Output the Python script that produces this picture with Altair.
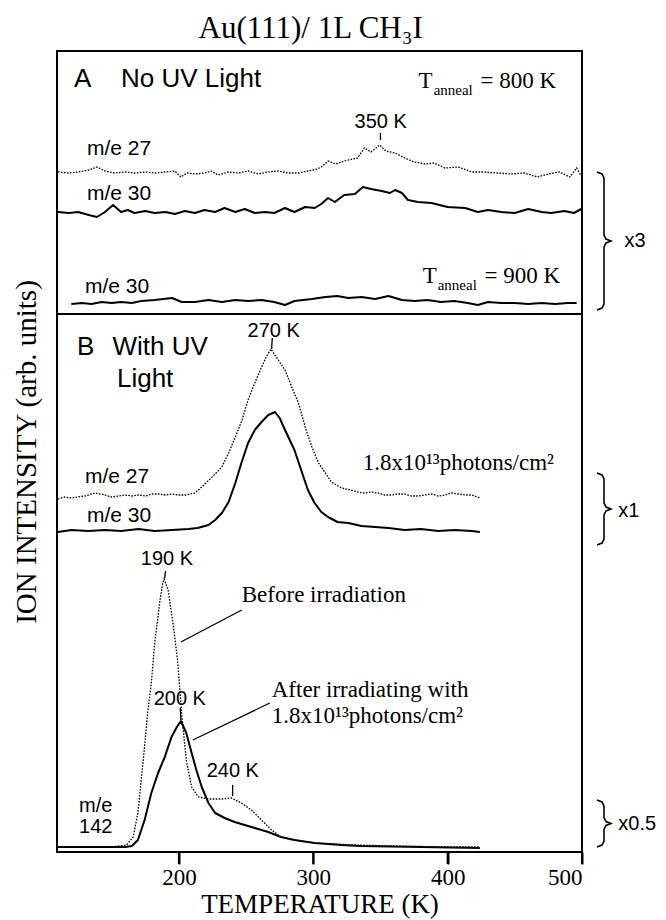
import altair as alt
import pandas as pd

# ---------------- data (temperature in K, intensity in arb. units, traces stacked) -------------
# Panel A: no UV light
A27_T = [110, 118, 125, 133, 139, 145, 152, 160, 167, 175, 182, 190, 197, 201.5, 206, 212, 219, 224, 229, 237,
         244, 251.5, 259, 266, 274, 281, 289, 296, 303, 306, 311, 317, 323, 333, 338, 343, 349.5, 354, 361, 368,
         375, 383, 390, 398, 408, 418, 427, 437, 447, 457, 467, 475, 483, 491, 496, 499]
A27_I = [680, 679, 680, 682, 685, 681, 679, 680, 679, 680, 679, 680, 681, 675, 679, 678, 679, 681, 677, 680,
         679, 681, 678, 680, 681, 679, 679, 681, 683, 685, 691, 688, 691, 694, 704, 700, 707, 701, 699, 694,
         690, 688, 689, 684, 685, 680, 680, 679, 678, 679, 675, 678, 680, 675, 684, 677]

A30_T = [110, 118, 125, 133, 139, 145, 151, 157, 162, 167, 175, 182, 190, 197, 204.5, 212, 219, 227, 234, 242,
         249, 256.5, 264, 271, 279, 286, 294, 301, 306, 311, 316, 323, 331, 337, 343, 351, 357, 361, 366, 370.5,
         378, 388, 400, 413, 422.5, 430, 440, 450, 460, 470, 477, 487, 494, 499.5]
A30_I = [640, 639, 640, 637, 635, 640, 647, 640, 642, 639, 641, 639, 640, 638, 641, 639, 642, 640, 644, 640,
         643, 639, 640, 639, 644, 640, 645, 644, 648, 654, 650, 657, 658, 665, 663, 661, 659, 662, 659, 652,
         650, 649, 645, 644, 640, 642, 640, 639, 643, 640, 639, 641, 639, 643]

A30L_T = [120, 128, 135, 142.5, 150, 157, 165, 172, 182, 195, 202, 212, 222, 232, 242, 251.5, 261.5, 271, 279, 286,
          299, 309, 318, 326, 336, 346, 356, 366, 375.5, 385, 395, 405, 415, 422.5, 430, 440, 450, 460, 470, 480,
          489.5, 496]
A30L_I = [548, 549, 548, 550, 549, 550, 549, 551, 552, 554, 550, 550, 552, 550, 552, 551, 552, 550, 547, 551,
          553, 555, 556, 554, 555, 553, 556, 552, 551, 552, 550, 551, 549, 547, 550, 549, 549, 548, 549, 548,
          549, 549]

# Panel B: with UV light
B27_T = [110, 115, 120, 125, 130, 137.5, 145, 150, 155, 160, 165, 170, 175, 180, 185, 190, 195, 200, 205, 212,
         217, 224, 232, 237, 242, 247, 251.5, 256.5, 261.5, 265, 268.5, 271, 274, 279, 284, 289, 294, 299, 304, 309,
         313.5, 321, 328, 333, 338, 343, 348, 353, 358, 363, 368, 373, 378, 383, 388, 393, 398, 403, 408, 413,
         418, 424]
B27_I = [353, 355, 354, 355, 356, 359, 357, 355, 356, 357, 356, 357, 356, 358, 358, 357, 358, 357, 357, 359,
         365, 374, 385, 399, 415, 432, 452, 469, 485, 495, 503, 498, 492, 482, 465, 449, 425, 405, 389, 379,
         370, 364, 362, 360, 359, 360, 359, 357, 357, 358, 358, 356, 356, 357, 358, 356, 357, 359, 358, 357,
         357, 354]

B30_T = [110, 120, 132.5, 145, 157, 170, 182, 195, 207, 214, 222, 227, 232, 237, 242, 246.5, 251.5, 256.5, 261.5,
         266.5, 271.5, 275, 279, 282.5, 286, 291, 296, 301, 306, 311, 318, 326, 336, 346, 356, 368, 380, 393, 405,
         418, 424]
B30_I = [320, 322, 321, 322, 321, 323, 321, 322, 323, 324, 327, 332, 339, 350, 369, 389, 409, 422, 430,
         437, 440, 434, 422, 412, 402, 382, 362, 349, 340, 335, 330, 329, 326, 325, 324, 322, 323, 321, 322,
         321, 320]

# m/e 142, before irradiation (dotted) and after irradiation (solid)
PRE_T = [110, 130, 150, 161, 166, 169.5, 173.5, 177, 179.5, 182, 186, 188, 189, 192, 196, 199, 202, 205.5, 209.5,
         214.5, 222, 232, 239, 246.5, 254, 261.5, 269, 276, 286, 301, 331, 360, 400, 424]
PRE_I = [5, 5, 5, 7, 15, 39, 92, 142, 169, 209, 252, 269, 273, 262, 225, 192, 139, 92, 65,
         55, 53, 53, 54, 49, 42, 32, 22, 15, 12, 9, 7, 6, 5, 5]

POST_T = [110, 140, 160, 165, 169.5, 174.5, 179.5, 184.5, 189.5, 194.5, 198.5, 201.5, 205.5, 209.5, 213, 217, 222,
          227, 234, 241.5, 249, 256.5, 266.5, 276, 286, 301, 321, 335, 380, 424]
POST_I = [5, 5, 5, 6, 12, 32, 59, 79, 95, 115, 125, 131, 119, 99, 82, 65, 49,
          39, 34, 30, 27, 24, 20, 15, 12, 9, 7, 6, 5, 4]

X_TICKS = [200, 300, 400, 500]
PANEL_SPLIT = 538

# annotations: (text, T, intensity, size)
SANS_LEFT = [
    ("A", 122.0, 765, 26), ("No UV Light", 156.9, 765, 26),
    ("m/e 27", 131.6, 697, 21), ("m/e 30", 131.6, 652, 21), ("m/e 30", 130.1, 559, 21),
    ("x3", 531.6, 605, 20),
    ("B", 124.2, 497, 26), ("With UV", 150.6, 497, 26), ("Light", 153.9, 465, 26),
    ("m/e 27", 130.1, 369, 21), ("m/e 30", 131.6, 330, 21),
    ("x1", 527.0, 335, 20), ("m/e", 125.7, 40, 20), ("142", 125.7, 19, 20), ("x0.5", 527.0, 22, 20),
]
SANS_CENTER = [
    ("350 K", 350.2, 724, 20), ("270 K", 270.6, 515, 20), ("190 K", 191.1, 287, 20),
    ("200 K", 200.7, 147, 20), ("240 K", 240.1, 75, 20),
]
SERIF_LEFT = [
    ("T", 378.4, 764, 23), ("anneal", 389.6, 757, 15), ("= 800 K", 424.5, 764, 23),
    ("T", 381.4, 569, 23), ("anneal", 392.6, 562, 15), ("= 900 K", 427.5, 569, 23),
    ("1.8x10\u00b9\u00b3photons/cm\u00b2", 336.8, 382, 23),
    ("Before irradiation", 246.8, 250, 23),
    ("After irradiating with", 269.1, 155, 23),
    ("1.8x10\u00b9\u00b3photons/cm\u00b2", 269.1, 129, 23),
]
SERIF_CENTER = [("Au(111)/ 1L CH\u2083I", 298.1, 814, 31)]

# label ticks and leader lines: (T1, I1, T2, I2)
SEGMENTS = [
    (350, 719, 350, 712), (269.5, 514, 269, 503), (190, 281, 189.5, 274),
    (201, 144, 201.5, 132), (240, 67, 240, 56),
    (246.8, 242, 201.5, 210), (267.7, 149, 210.4, 112),
]
# braces: (top, bottom)
BRACES = [(680, 542), (379, 307), (52, 5)]

# ---------------------------------------------------------------------------------------------
XDOM = [109.3, 500]
YDOM = [0, 801]
xs = alt.Scale(domain=XDOM, nice=False, zero=False)
ys = alt.Scale(domain=YDOM, nice=False, zero=False)
PX = (XDOM[1] - XDOM[0]) / 525.0  # K per pixel

SERIF = "Liberation Serif"
SANS = "Liberation Sans"

x_axis = alt.Axis(values=X_TICKS, tickSize=12, tickWidth=2, tickColor="black", domain=False, grid=False,
                  labelFont=SERIF, labelFontSize=23, labelColor="black", labelPadding=2,
                  title="TEMPERATURE (K)", titleFont=SERIF, titleFontSize=27, titleFontWeight="normal",
                  titleColor="black", titlePadding=2)
y_axis = alt.Axis(labels=False, ticks=False, domain=False, grid=False,
                  title="ION INTENSITY (arb. units)", titleFont=SERIF, titleFontSize=29,
                  titleFontWeight="normal", titleColor="black", titlePadding=16)


def X(f):
    return alt.X(f, scale=xs, axis=x_axis, title="TEMPERATURE (K)")


def Y(f):
    return alt.Y(f, scale=ys, axis=y_axis, title="ION INTENSITY (arb. units)")


def tr(name, T, I):
    return pd.DataFrame({"series": name, "T": T, "I": I, "o": list(range(len(T)))})


solid = pd.concat([tr("A30", A30_T, A30_I), tr("A30L", A30L_T, A30L_I),
                   tr("B30", B30_T, B30_I), tr("post", POST_T, POST_I)])
dotted = pd.concat([tr("A27", A27_T, A27_I), tr("B27", B27_T, B27_I), tr("pre", PRE_T, PRE_I)])

solid_layer = alt.Chart(solid).mark_line(color="black", strokeWidth=2, strokeJoin="round").encode(
    x=X("T:Q"), y=Y("I:Q"), detail="series:N", order="o:Q")

dotted_layer = alt.Chart(dotted).mark_line(color="black", strokeWidth=1.3, strokeDash=[1.6, 1.4]).encode(
    x=X("T:Q"), y=Y("I:Q"), detail="series:N", order="o:Q")


def text_layer(rows, font, align):
    df = pd.DataFrame(rows, columns=["text", "T", "I", "size"])
    return alt.Chart(df).mark_text(font=font, align=align, baseline="alphabetic", color="black").encode(
        x=X("T:Q"), y=Y("I:Q"), text="text:N", size=alt.Size("size:Q", scale=None))


seg_df = pd.DataFrame(SEGMENTS, columns=["T", "I", "T2", "I2"])
seg_layer = alt.Chart(seg_df).mark_rule(color="black", strokeWidth=1.3).encode(
    x=X("T:Q"), y=Y("I:Q"), x2="T2:Q", y2="I2:Q")

# outward tick marks on the temperature axis (drawn from the axis values, 12 units below the baseline)
tick_df = pd.DataFrame({"T": X_TICKS, "I": [0] * len(X_TICKS), "I2": [-12] * len(X_TICKS)})
tick_layer = alt.Chart(tick_df).mark_rule(color="black", strokeWidth=2).encode(
    x=X("T:Q"), y=Y("I:Q"), y2="I2:Q")

split_layer = alt.Chart(pd.DataFrame({"I": [PANEL_SPLIT]})).mark_rule(color="black", strokeWidth=2).encode(
    y=Y("I:Q"))

# brace shapes
bx0 = XDOM[0] + (597 - 57) * PX
bxs = XDOM[0] + (604 - 57) * PX
bxt = XDOM[0] + (611 - 57) * PX
rows = []
for k, (top, bot) in enumerate(BRACES):
    mid = (top + bot) / 2.0
    pts = [(bx0, top), (bxs - 2 * PX, top - 2), (bxs, top - 6), (bxs, mid + 6), (bxs + 2 * PX, mid + 2),
           (bxt, mid), (bxs + 2 * PX, mid - 2), (bxs, mid - 6), (bxs, bot + 6), (bxs - 2 * PX, bot + 2),
           (bx0, bot)]
    for j, (a, b) in enumerate(pts):
        rows.append({"b": k, "o": j, "T": a, "I": b})
brace_layer = alt.Chart(pd.DataFrame(rows)).mark_line(color="black", strokeWidth=1.6).encode(
    x=X("T:Q"), y=Y("I:Q"), detail="b:N", order="o:Q")

chart = alt.layer(
    solid_layer, dotted_layer, split_layer, seg_layer, tick_layer, brace_layer,
    text_layer(SANS_LEFT, SANS, "left"), text_layer(SANS_CENTER, SANS, "center"),
    text_layer(SERIF_LEFT, SERIF, "left"), text_layer(SERIF_CENTER, SERIF, "center"),
).properties(
    width=525, height=801,
    autosize=alt.AutoSizeParams(type="none"),
    padding={"left": 49, "top": 43, "right": 76, "bottom": 67},
    background="white",
).configure_view(stroke="black", strokeWidth=2)

chart.save("out.html", embed_options={"renderer": "svg", "actions": False})
